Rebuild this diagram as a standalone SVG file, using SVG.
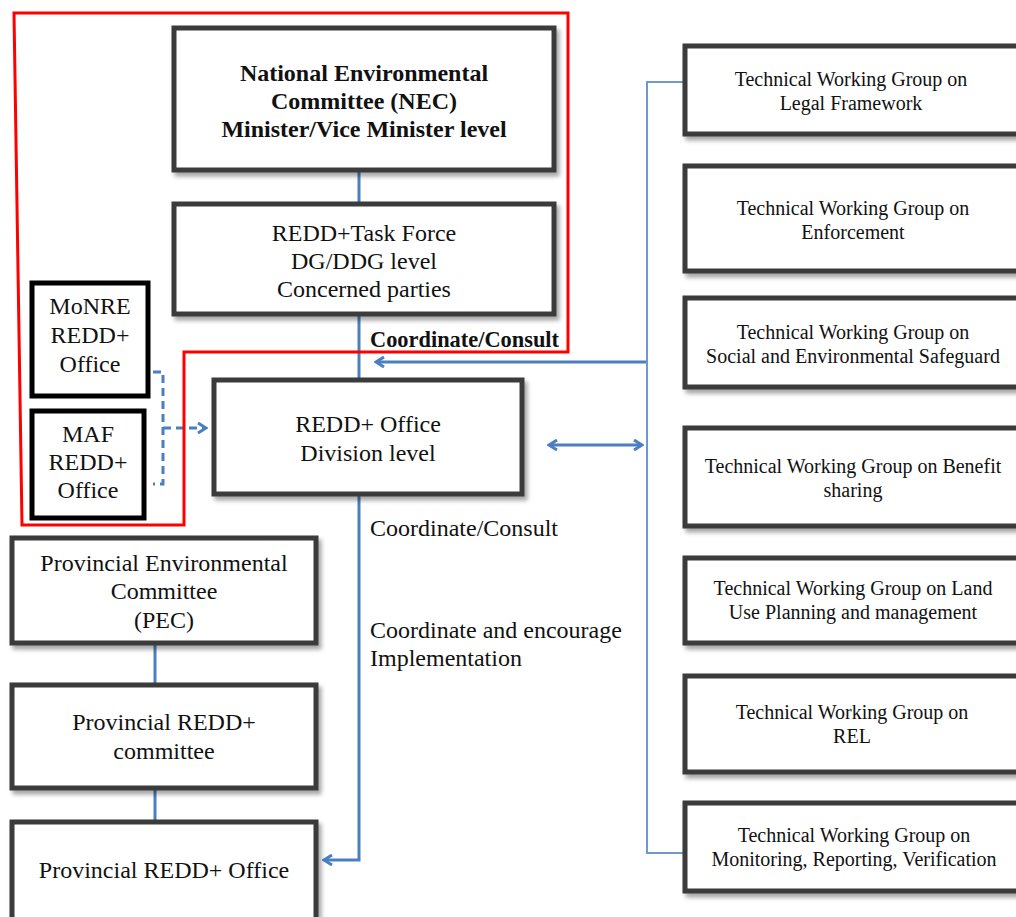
<svg xmlns="http://www.w3.org/2000/svg" width="1016" height="917" viewBox="0 0 1016 917">
<style>
.box{fill:#fff;stroke:#3a3a3a;stroke-width:5;filter:url(#sh)}
.bbox{fill:#fff;stroke:#000;stroke-width:5}
.t{font-family:"Liberation Serif","Times New Roman",serif;font-size:24px;fill:#111;text-anchor:middle}
.b{font-weight:bold}
.tl{font-family:"Liberation Serif","Times New Roman",serif;font-size:24px;fill:#111}
.r{font-family:"Liberation Serif","Times New Roman",serif;font-size:20px;fill:#111;text-anchor:middle}
.ln{fill:none;stroke:#4a7fc1;stroke-width:3}
.thin{fill:none;stroke:#6f98cc;stroke-width:2}
.dash{fill:none;stroke:#4a7fc1;stroke-width:3;stroke-dasharray:8 5}
</style>
<defs>
<filter id="sh" x="-10%" y="-10%" width="130%" height="130%">
<feDropShadow dx="3" dy="4" stdDeviation="2" flood-color="#000" flood-opacity="0.35"/>
</filter>
<marker id="ah" viewBox="0 0 12 12" refX="10" refY="6" markerWidth="12" markerHeight="12" markerUnits="userSpaceOnUse" orient="auto-start-reverse">
<path d="M2,1 L10,6 L2,11" fill="none" stroke="#4a7fc1" stroke-width="3"/>
</marker>
</defs>
<rect width="1016" height="917" fill="#fff"/>
<g id="connectors">
<path class="ln" d="M359,172 V202"/>
<path class="ln" d="M359,316 V378"/>
<path class="ln" d="M646,362 H376" marker-end="url(#ah)"/>
<path class="ln" d="M549,445 H642" marker-start="url(#ah)" marker-end="url(#ah)"/>
<path class="ln" d="M359,496 V860 H324" marker-end="url(#ah)"/>
<path class="thin" d="M683,82 H647 V853 H683"/>
<path class="ln" d="M155,645 V683"/>
<path class="ln" d="M155,790 V820"/>
<path class="dash" d="M153,372 H163 V484 H153"/>
<path class="dash" d="M163,428 H206" marker-end="url(#ah)"/>
</g>
<g id="highlight">
<path d="M14,13 H568 V352 H184 V525 H22 Z" fill="none" stroke="#f00" stroke-width="3"/>
</g>
<g id="nec">
<rect class="box" x="174" y="28" width="380" height="142"/>
<text class="t b" x="364" y="81">National Environmental</text>
<text class="t b" x="364" y="109">Committee (NEC)</text>
<text class="t b" x="364" y="137">Minister/Vice Minister level</text>
</g>
<g id="taskforce">
<rect class="box" x="174" y="204" width="380" height="110"/>
<text class="t" x="364" y="241">REDD+Task Force</text>
<text class="t" x="364" y="269">DG/DDG level</text>
<text class="t" x="364" y="297">Concerned parties</text>
</g>
<g id="label-cc-bold">
<text class="tl b" x="370" y="347" font-size="22" textLength="189" lengthAdjust="spacingAndGlyphs">Coordinate/Consult</text>
</g>
<g id="monre">
<rect class="bbox" x="32" y="283" width="116" height="113"/>
<text class="t" x="90" y="314">MoNRE</text>
<text class="t" x="90" y="343">REDD+</text>
<text class="t" x="90" y="372">Office</text>
</g>
<g id="maf">
<rect class="bbox" x="32" y="411" width="112" height="107"/>
<text class="t" x="88" y="442">MAF</text>
<text class="t" x="88" y="470">REDD+</text>
<text class="t" x="88" y="498">Office</text>
</g>
<g id="reddoffice">
<rect class="box" x="214" y="380" width="308" height="114"/>
<text class="t" x="368" y="432">REDD+ Office</text>
<text class="t" x="368" y="461">Division level</text>
</g>
<g id="labels">
<text class="tl" x="370" y="536">Coordinate/Consult</text>
<text class="tl" x="370" y="638">Coordinate and encourage</text>
<text class="tl" x="370" y="666">Implementation</text>
</g>
<g id="pec">
<rect class="box" x="12" y="538" width="304" height="105"/>
<text class="t" x="164" y="571">Provincial Environmental</text>
<text class="t" x="164" y="599">Committee</text>
<text class="t" x="164" y="628">(PEC)</text>
</g>
<g id="provcommittee">
<rect class="box" x="12" y="685" width="304" height="103"/>
<text class="t" x="164" y="730">Provincial REDD+</text>
<text class="t" x="164" y="759">committee</text>
</g>
<g id="provoffice">
<rect class="box" x="12" y="822" width="304" height="110"/>
<text class="t" x="164" y="878">Provincial REDD+ Office</text>
</g>
<g id="twg-legal">
<rect class="box" x="685" y="46" width="345" height="88"/>
<text class="r" x="851" y="86">Technical Working Group on</text>
<text class="r" x="851" y="110">Legal Framework</text>
</g>
<g id="twg-enforcement">
<rect class="box" x="685" y="166" width="345" height="105"/>
<text class="r" x="853" y="215">Technical Working Group on</text>
<text class="r" x="853" y="239">Enforcement</text>
</g>
<g id="twg-safeguard">
<rect class="box" x="685" y="298" width="345" height="89"/>
<text class="r" x="853" y="339">Technical Working Group on</text>
<text class="r" x="853" y="363">Social and Environmental Safeguard</text>
</g>
<g id="twg-benefit">
<rect class="box" x="685" y="428" width="345" height="98"/>
<text class="r" x="853" y="473">Technical Working Group on Benefit</text>
<text class="r" x="853" y="497">sharing</text>
</g>
<g id="twg-land">
<rect class="box" x="685" y="558" width="345" height="85"/>
<text class="r" x="853" y="595">Technical Working Group on Land</text>
<text class="r" x="853" y="619">Use Planning and management</text>
</g>
<g id="twg-rel">
<rect class="box" x="685" y="676" width="345" height="96"/>
<text class="r" x="852" y="719">Technical Working Group on</text>
<text class="r" x="852" y="743">REL</text>
</g>
<g id="twg-mrv">
<rect class="box" x="685" y="803" width="345" height="88"/>
<text class="r" x="854" y="842">Technical Working Group on</text>
<text class="r" x="854" y="866">Monitoring, Reporting, Verification</text>
</g>
</svg>
